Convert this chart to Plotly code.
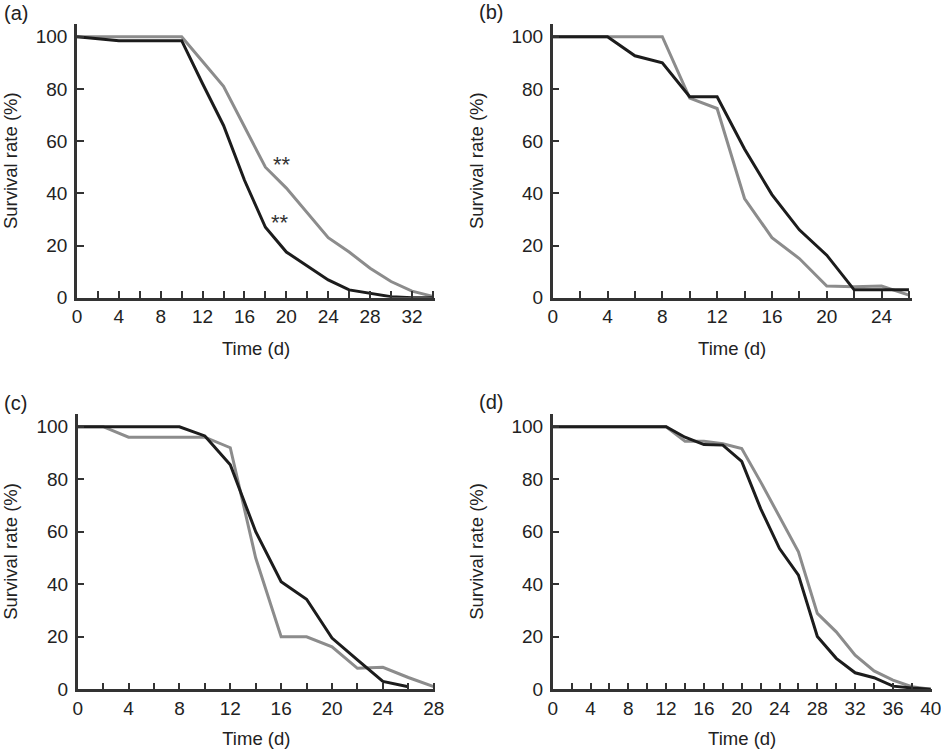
import plotly.graph_objects as go
from plotly.subplots import make_subplots

# (a)
days_a = [0, 2, 4, 6, 8, 10, 12, 14, 16, 18, 20, 22, 24, 26, 28, 30, 32, 34]
a_black = [100, 99.3, 98.5, 98.5, 98.5, 98.5, 82, 66, 45, 27, 17.5, 12, 6.8, 3, 1.7, 0.4, 0, 0]
a_gray = [100, 100, 100, 100, 100, 100, 90.5, 81, 65.5, 50, 42, 32.5, 23, 17.5, 11.3, 6.2, 2.5, 0.5]

# (b)
days_b = [0, 2, 4, 6, 8, 10, 12, 14, 16, 18, 20, 22, 24, 26]
b_black = [100, 100, 100, 92.7, 90, 77, 77, 57, 39.5, 26, 16.3, 3, 3, 3]
b_gray = [100, 100, 100, 100, 100, 76.5, 72.5, 38, 23, 15, 4.5, 4.2, 4.5, 1]

# (c)
days_c_black = [0, 2, 4, 6, 8, 10, 12, 14, 16, 18, 20, 22, 24, 26]
c_black = [100, 100, 100, 100, 100, 96.5, 85.5, 60, 41, 34.3, 19.5, 11.2, 3, 1]
days_c_gray = [0, 2, 4, 6, 8, 10, 12, 14, 16, 18, 20, 22, 24, 26, 28]
c_gray = [100, 100, 96, 96, 96, 96, 92, 50, 20, 20, 16.2, 8, 8.4, 4.5, 1]

# (d)
days_d = [0, 2, 4, 6, 8, 10, 12, 14, 16, 18, 20, 22, 24, 26, 28, 30, 32, 34, 36, 38, 40]
d_black = [100, 100, 100, 100, 100, 100, 100, 96, 93.2, 93, 86.8, 68.8, 53.6, 43.5, 20.1, 11.8, 6.3, 4.4, 1.2, 0.5, 0]
d_gray = [100, 100, 100, 100, 100, 100, 100, 94.5, 94.5, 93.5, 91.7, 79, 65.7, 52.4, 28.9, 21.9, 13, 7, 3.5, 1, 0]

panel_labels = ['(a)', '(b)', '(c)', '(d)']
x_ranges = [[0, 34.2], [0, 26.2], [0, 28.1], [0, 40.1]]

BLACK = '#1c1c1c'
GRAY = '#8c8c8c'
AXIS = '#333333'
TEXT = '#222222'
FONT = 'Liberation Sans, Arial, sans-serif'

W, H = 941, 749


def px_x(px):
    return px / W


def px_y(py):
    return 1 - py / H


fig = make_subplots(rows=2, cols=2)

series = [
    (1, 1, days_a, a_gray, days_a, a_black),
    (1, 2, days_b, b_gray, days_b, b_black),
    (2, 1, days_c_gray, c_gray, days_c_black, c_black),
    (2, 2, days_d, d_gray, days_d, d_black),
]
for r, c, xg, yg, xb, yb in series:
    fig.add_trace(go.Scatter(x=xg, y=yg, mode='lines', line=dict(color=GRAY, width=3),
                             showlegend=False), row=r, col=c)
    fig.add_trace(go.Scatter(x=xb, y=yb, mode='lines', line=dict(color=BLACK, width=3),
                             showlegend=False), row=r, col=c)

# plot-area edges in window pixels (left, right, bottom, top)
boxes = [(77, 435, 297.7, 23.7), (552.7, 911.7, 297.7, 23.7),
         (77.7, 435, 689.3, 413.6), (552.7, 931.7, 689.3, 413.6)]

for i in range(4):
    r, c = i // 2 + 1, i % 2 + 1
    x0, x1, yb_, yt_ = boxes[i]
    fig.update_xaxes(
        domain=[px_x(x0), px_x(x1)], range=x_ranges[i], dtick=4, tick0=0,
        ticks='inside', ticklen=7, tickwidth=2, tickcolor=AXIS,
        minor=dict(dtick=2, tick0=0, ticks='inside', ticklen=7, tickwidth=2, tickcolor=AXIS),
        showline=True, linecolor=AXIS, linewidth=2.5, showgrid=False, zeroline=False,
        ticklabelstandoff=0, automargin=False, ticklabeloverflow='allow',
        title=dict(text='Time (d)', standoff=16, font=dict(size=18.5, color=TEXT)),
        tickfont=dict(size=19, color=TEXT),
        row=r, col=c)
    fig.update_yaxes(
        domain=[px_y(yb_), px_y(yt_)], range=[0, 105], tickvals=[0, 20, 40, 60, 80, 100],
        ticks='inside', ticklen=7, tickwidth=2, tickcolor=AXIS,
        showline=True, linecolor=AXIS, linewidth=2.5, showgrid=False, zeroline=False,
        ticklabelstandoff=3, automargin=False,
        title=dict(text='Survival rate (%)', standoff=23, font=dict(size=18.5, color=TEXT)),
        tickfont=dict(size=19, color=TEXT),
        row=r, col=c)

label_pos = [(1.7, 13.3), (476.7, 12), (1.7, 403.3), (476.7, 401.7)]
for text, (lx, ly) in zip(panel_labels, label_pos):
    fig.add_annotation(xref='paper', yref='paper', x=px_x(lx), y=px_y(ly),
                       xanchor='left', yanchor='middle', text=text, showarrow=False,
                       font=dict(size=20, color=TEXT))

# significance marks in (a)
fig.add_annotation(x=19.6, y=51, xref='x', yref='y', text='**', showarrow=False,
                   font=dict(size=22, color='#333333'))
fig.add_annotation(x=19.4, y=29, xref='x', yref='y', text='**', showarrow=False,
                   font=dict(size=22, color='#333333'))

fig.update_layout(
    width=W, height=H,
    margin=dict(l=0, r=0, t=0, b=0),
    paper_bgcolor='white', plot_bgcolor='white',
    font=dict(family=FONT, color=TEXT),
)

# drop the default 8px page margin so the figure fills the window exactly
fig.write_html('out.html', config={'displayModeBar': False},
               post_script="document.body.style.margin='0';")
